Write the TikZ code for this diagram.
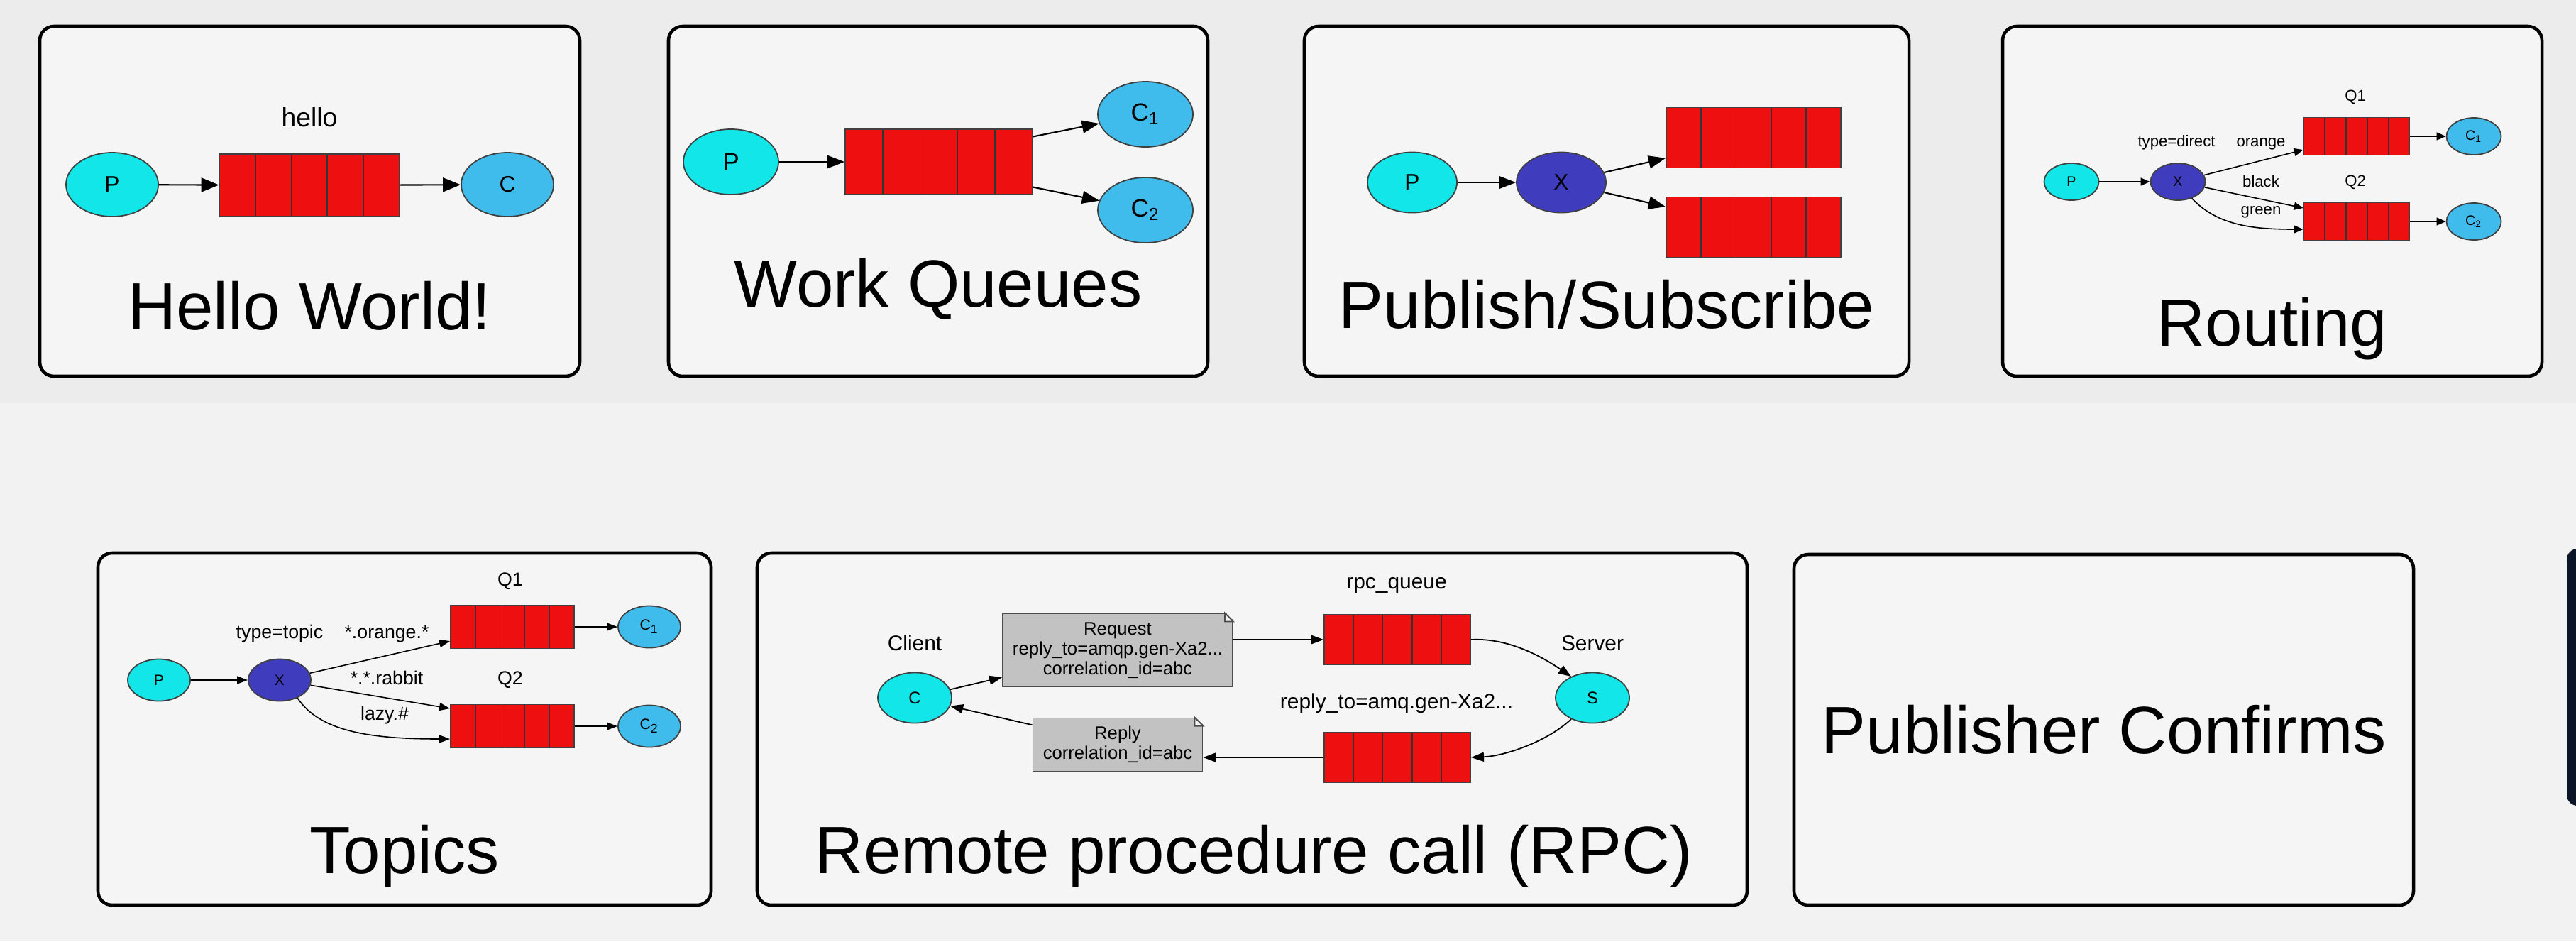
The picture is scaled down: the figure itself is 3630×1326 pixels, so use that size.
\documentclass[tikz,border=0pt]{standalone}
\usepackage{fontspec}
\setmainfont{Liberation Sans}
\usepackage{tikz}
\usetikzlibrary{positioning, shapes.geometric, arrows.meta, calc}

\definecolor{bgtop}{HTML}{ECECEC}
\definecolor{bgbot}{HTML}{F2F2F2}
\definecolor{panelbg}{HTML}{F5F5F6}
\definecolor{pcyan}{HTML}{12E6E8}
\definecolor{csky}{HTML}{40BCEC}
\definecolor{xblue}{HTML}{3F3DBE}
\definecolor{qred}{HTML}{EE1010}
\definecolor{notegray}{HTML}{C2C2C2}
\definecolor{darkedge}{HTML}{0B1526}

\begin{document}
\begin{tikzpicture}[
  x=0.01cm, y=-0.01cm,
  panel/.style={draw=black, line width=1.3pt, rounded corners=0.2cm, fill=panelbg},
  title/.style={anchor=base, font=\fontsize{26.8}{32}\selectfont},
  ell/.style={ellipse, draw=black!75, line width=0.5pt, inner sep=0pt},
  prod/.style={ell, fill=pcyan},
  cons/.style={ell, fill=csky},
  exch/.style={ell, fill=xblue},
  queue/.style={rectangle, draw=black!75, line width=0.5pt, fill=qred, inner sep=0pt,
    path picture={\foreach \k in {0.2,0.4,0.6,0.8}
      \draw[black!80, line width=0.5pt]
        ($(path picture bounding box.south west)!\k!(path picture bounding box.south east)$)
        -- ($(path picture bounding box.north west)!\k!(path picture bounding box.north east)$);}},
  note/.style={rectangle, draw=black!70, line width=0.5pt, fill=notegray,
    inner sep=0pt, align=center},
  fold/.style={draw=black!70, line width=0.5pt, fill=panelbg}
]
\useasboundingbox (0,0) rectangle (3630,1326);
\clip (0,0) rectangle (3630,1326);
\fill[bgtop] (0,0) rectangle (3630,568);
\fill[bgbot] (0,568) rectangle (3630,1326);
\fill[darkedge, rounded corners=0.15cm] (3617,773) rectangle (3700,1135);

% ---- Hello World! ----
\draw[panel] (56,37) rectangle (817,530);
\begin{scope}[ell/.append style={minimum width=1.3cm, minimum height=0.9cm, font=\fontsize{9}{10}\selectfont},
  queue/.append style={minimum width=2.53cm, minimum height=0.88cm},
  >={Triangle[length=0.25cm, width=0.2cm]}, line width=0.6pt]
\node[prod] (hwP) at (158,260) {P};
\node[queue] (hwQ) at (436,261) {};
\node[cons] (hwC) at (715,260) {C};
\node[font=\fontsize{10.6}{12}\selectfont] (hwL) at (436,165) {hello};
\draw[->] (hwP) -- (hwQ);
\draw[->] (hwQ) -- (hwC);
\end{scope}
\node[title] (hwT) at (436,464) {Hello World!};

% ---- Work Queues ----
\draw[panel] (942,37) rectangle (1702,530);
\begin{scope}[ell/.append style={minimum width=1.34cm, minimum height=0.92cm, font=\fontsize{10}{11}\selectfont},
  queue/.append style={minimum width=2.64cm, minimum height=0.92cm},
  >={Triangle[length=0.24cm, width=0.18cm]}, line width=0.6pt]
\node[prod] (wqP) at (1030,228) {P};
\node[queue] (wqQ) at (1323,228) {};
\node[cons] (wqC1) at (1614,161) {C\textsubscript{1}};
\node[cons] (wqC2) at (1614,296) {C\textsubscript{2}};
\draw[->] (wqP) -- (wqQ);
\draw[->] (wqQ.15) -- (wqC1);
\draw[->] (wqQ.-15) -- (wqC2);
\end{scope}
\node[title] (wqT) at (1322,432) {Work Queues};

% ---- Publish/Subscribe ----
\draw[panel] (1838,37) rectangle (2690,530);
\begin{scope}[ell/.append style={minimum width=1.26cm, minimum height=0.85cm, font=\fontsize{9}{10}\selectfont},
  queue/.append style={minimum width=2.46cm, minimum height=0.85cm},
  >={Triangle[length=0.24cm, width=0.18cm]}, line width=0.6pt]
\node[prod] (psP) at (1990,257) {P};
\node[exch] (psX) at (2200,257) {X};
\node[queue] (psQ1) at (2471,194) {};
\node[queue] (psQ2) at (2471,320) {};
\draw[->] (psP) -- (psX);
\draw[->] (psX) -- (psQ1);
\draw[->] (psX) -- (psQ2);
\end{scope}
\node[title] (psT) at (2264,462) {Publish/Subscribe};

% ---- Routing ----
\draw[panel] (2822,37) rectangle (3582,530);
\begin{scope}[ell/.append style={minimum width=0.77cm, minimum height=0.52cm, font=\fontsize{5.6}{6}\selectfont},
  queue/.append style={minimum width=1.49cm, minimum height=0.53cm},
  lbl/.style={font=\fontsize{6.3}{7}\selectfont},
  >={Triangle[length=0.13cm, width=0.11cm]}, line width=0.45pt]
\node[prod] (rtP) at (2919,256) {P};
\node[exch] (rtX) at (3069,256) {X};
\node[queue] (rtQ1) at (3321,192) {};
\node[queue] (rtQ2) at (3321,312) {};
\node[cons] (rtC1) at (3486,192) {C\textsubscript{1}};
\node[cons] (rtC2) at (3486,312) {C\textsubscript{2}};
\node[lbl] (rtType) at (3067,201) {type=direct};
\node[lbl] (rtOrange) at (3186,203) {orange};
\node[lbl] (rtBlack) at (3186,256) {black};
\node[lbl] (rtGreen) at (3186,299) {green};
\node[lbl] (rtL1) at (3319,137) {Q1};
\node[lbl] (rtL2) at (3319,257) {Q2};
\draw[->] (rtP) -- (rtX);
\draw[->] (rtX) -- (rtQ1);
\draw[->] (rtX) -- (rtQ2.west |- 0,293);
\draw[->] (rtX.-50) .. controls (3125,318) and (3175,323) .. (rtQ2.west |- 0,323);
\draw[->] (rtQ1) -- (rtC1);
\draw[->] (rtQ2) -- (rtC2);
\end{scope}
\node[title] (rtT) at (3202,487) {Routing};

% ---- Topics ----
\draw[panel] (138,779) rectangle (1002,1275);
\begin{scope}[ell/.append style={minimum width=0.88cm, minimum height=0.59cm, font=\fontsize{6}{7}\selectfont},
  queue/.append style={minimum width=1.74cm, minimum height=0.61cm},
  lbl/.style={font=\fontsize{7.6}{8}\selectfont},
  >={Triangle[length=0.15cm, width=0.11cm]}, line width=0.45pt]
\node[prod] (tpP) at (224,958) {P};
\node[exch] (tpX) at (394,958) {X};
\node[queue] (tpQ1) at (722,883) {};
\node[queue] (tpQ2) at (722,1023) {};
\node[cons] (tpC1) at (915,883) {C\textsubscript{1}};
\node[cons] (tpC2) at (915,1023) {C\textsubscript{2}};
\node[lbl] (tpType) at (394,893) {type=topic};
\node[lbl] (tpOrange) at (545,893) {*.orange.*};
\node[lbl] (tpRabbit) at (545,955) {*.*.rabbit};
\node[lbl] (tpLazy) at (542,1008) {lazy.\#};
\node[lbl] (tpL1) at (719,819) {Q1};
\node[lbl] (tpL2) at (719,958) {Q2};
\draw[->] (tpP) -- (tpX);
\draw[->] (tpX) -- (tpQ1);
\draw[->] (tpX) -- (tpQ2.west |- 0,998);
\draw[->] (tpX.-45) .. controls (450,1030) and (520,1041) .. (tpQ2.west |- 0,1041);
\draw[->] (tpQ1) -- (tpC1);
\draw[->] (tpQ2) -- (tpC2);
\end{scope}
\node[title] (tpT) at (570,1230) {Topics};

% ---- Remote procedure call (RPC) ----
\draw[panel] (1067,779) rectangle (2462,1275);
\begin{scope}[ell/.append style={minimum width=1.04cm, minimum height=0.71cm, font=\fontsize{6.8}{7}\selectfont},
  queue/.append style={minimum width=2.06cm, minimum height=0.71cm},
  lbl/.style={font=\fontsize{8.5}{9}\selectfont},
  note/.append style={font=\fontsize{7.3}{8}\selectfont},
  >={Triangle[length=0.18cm, width=0.13cm]}, line width=0.5pt]
\node[prod] (rpcC) at (1289,983) {C};
\node[prod] (rpcS) at (2244,983) {S};
\node[lbl] (rpcClient) at (1289,906) {Client};
\node[lbl] (rpcServer) at (2244,906) {Server};
\node[note, minimum width=3.24cm, minimum height=1.03cm] (rpcReq) at (1575,916)
  {Request\\reply\_to=amqp.gen-Xa2...\\correlation\_id=abc};
\node[note, minimum width=2.39cm, minimum height=0.75cm] (rpcRep) at (1575,1049)
  {Reply\\correlation\_id=abc};
% folded corners
\fill[panelbg] ($(rpcReq.north east)+(-12,-2)$) -- ($(rpcReq.north east)+(2,-2)$) -- ($(rpcReq.north east)+(2,12)$) -- cycle;
\draw[fold] ($(rpcReq.north east)+(-12,0)$) -- ($(rpcReq.north east)+(0,12)$) -| cycle;
\fill[panelbg] ($(rpcRep.north east)+(-12,-2)$) -- ($(rpcRep.north east)+(2,-2)$) -- ($(rpcRep.north east)+(2,12)$) -- cycle;
\draw[fold] ($(rpcRep.north east)+(-12,0)$) -- ($(rpcRep.north east)+(0,12)$) -| cycle;
\node[queue] (rpcQ1) at (1969,901) {};
\node[queue] (rpcQ2) at (1969,1067) {};
\node[lbl] (rpcL1) at (1968,825) {rpc\_queue};
\node[lbl] (rpcL2) at (1968,991) {reply\_to=amq.gen-Xa2...};
\draw[->] (rpcC) -- (rpcReq);
\draw[->] (rpcReq.east |- rpcQ1.west) -- (rpcQ1.west);
\draw[->] (rpcQ1.east) .. controls (2130,898) and (2180,930) .. (rpcS.135);
\draw[->] (rpcS.225) .. controls (2180,1045) and (2120,1065) .. (rpcQ2.east);
\draw[->] (rpcQ2.west) -- (rpcRep.east |- rpcQ2.west);
\draw[->] (rpcRep) -- (rpcC);
\end{scope}
\node[title] (rpcT) at (1767,1230) {Remote procedure call (RPC)};

% ---- Publisher Confirms ----
\draw[panel] (2528,781) rectangle (3401,1275);
\node[title] (pcT) at (2965,1061) {Publisher Confirms};

\end{tikzpicture}
\end{document}
